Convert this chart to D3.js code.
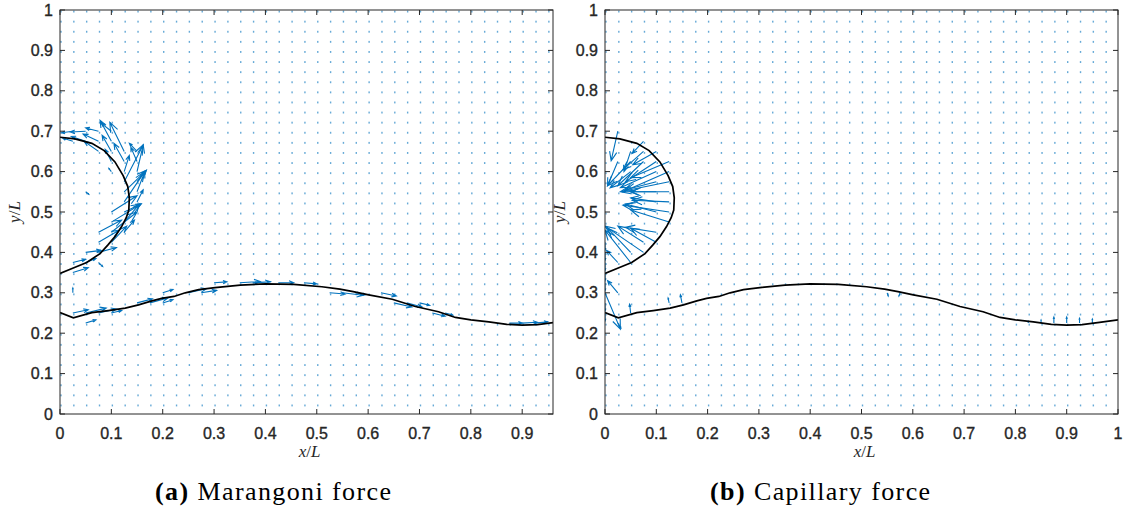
<!DOCTYPE html>
<html>
<head>
<meta charset="utf-8">
<script src="https://cdn.jsdelivr.net/npm/d3@7/dist/d3.min.js"></script>
<style>
  body { margin: 0; background: #fff; }
  svg { display: block; }
</style>
</head>
<body>
<svg id="chart" width="1124" height="515"></svg>
<script>
// quiver sample grid (x/L, y/L)
var gridX = [0, 0.025, 0.05, 0.075, 0.1, 0.125, 0.15, 0.175, 0.2, 0.225, 0.25, 0.275, 0.3, 0.325, 0.35, 0.375, 0.4,
  0.425, 0.45, 0.475, 0.5, 0.525, 0.55, 0.575, 0.6, 0.625, 0.65, 0.675, 0.7, 0.725, 0.75, 0.775, 0.8,
  0.825, 0.85, 0.875, 0.9, 0.925, 0.95, 0.975, 1];
var gridY = [0.025, 0.05, 0.075, 0.1, 0.125, 0.15, 0.175, 0.2, 0.225, 0.25, 0.275, 0.3, 0.325, 0.35, 0.375, 0.4,
  0.425, 0.45, 0.475, 0.5, 0.525, 0.55, 0.575, 0.6, 0.625, 0.65, 0.675, 0.7, 0.725, 0.75, 0.775, 0.8,
  0.825, 0.85, 0.875, 0.9, 0.925, 0.95, 0.975, 1];

// interface: droplet on the left wall
var dropletX = [0, 0.029, 0.062, 0.086, 0.107, 0.123, 0.132, 0.135, 0.134, 0.129, 0.120, 0.107, 0.093, 0.078, 0.052, 0.027, 0];
var dropletY = [0.685, 0.681, 0.670, 0.652, 0.624, 0.590, 0.563, 0.535, 0.505, 0.486, 0.464, 0.439, 0.418, 0.397, 0.375, 0.362, 0.348];

// interface: wavy film
var waveX = [0, 0.026, 0.062, 0.094, 0.127, 0.153, 0.179, 0.198, 0.222, 0.244, 0.270, 0.302, 0.351, 0.400, 0.455,
  0.510, 0.545, 0.571, 0.601, 0.647, 0.692, 0.737, 0.770, 0.800, 0.835, 0.870, 0.900, 0.930, 0.964, 1.0];
var waveY = [0.251, 0.238, 0.251, 0.256, 0.262, 0.270, 0.280, 0.286, 0.291, 0.300, 0.308, 0.313, 0.319, 0.322, 0.321,
  0.315, 0.309, 0.303, 0.295, 0.284, 0.266, 0.253, 0.239, 0.233, 0.228, 0.222, 0.220, 0.221, 0.227, 0.233];

// force vectors [x, y, u, v]
var marangoniVec = [
  [0.025, 0.700, -0.022, -0.004], [0.025, 0.675, -0.020, 0.008], [0.050, 0.700, -0.030, -0.002],
  [0.050, 0.675, -0.028, 0.012], [0.075, 0.675, -0.030, 0.018], [0.075, 0.650, -0.028, 0.025],
  [0.075, 0.700, -0.025, 0.008], [0.100, 0.700, -0.020, 0.020], [0.150, 0.650, -0.015, 0.020],
  [0.100, 0.675, -0.022, 0.052], [0.100, 0.650, -0.018, 0.040], [0.125, 0.650, -0.028, 0.072],
  [0.125, 0.625, -0.020, 0.045], [0.100, 0.625, -0.012, 0.030], [0.125, 0.600, 0.010, 0.040],
  [0.150, 0.625, -0.012, 0.035], [0.125, 0.575, 0.037, 0.091], [0.150, 0.600, 0.012, 0.066],
  [0.125, 0.550, 0.043, 0.053], [0.150, 0.575, 0.018, 0.028], [0.125, 0.525, 0.040, 0.075],
  [0.150, 0.550, 0.015, 0.050], [0.150, 0.525, 0.012, 0.030], [0.100, 0.500, 0.050, 0.040],
  [0.125, 0.500, 0.033, 0.020], [0.100, 0.475, 0.058, 0.045], [0.125, 0.475, 0.030, 0.045],
  [0.100, 0.450, 0.050, 0.050], [0.125, 0.450, 0.020, 0.030], [0.100, 0.425, 0.030, 0.040],
  [0.075, 0.450, 0.045, 0.030], [0.075, 0.425, 0.040, 0.030], [0.075, 0.400, 0.035, 0.012],
  [0.050, 0.400, 0.030, 0.005], [0.050, 0.375, 0.020, 0.010], [0.025, 0.375, 0.025, 0.008],
  [0.025, 0.350, 0.030, 0.012], [0.075, 0.375, 0.008, -0.010], [0.100, 0.600, -0.005, 0.008],
  [0.050, 0.550, 0.006, -0.006],
  // along the film
  [0.025, 0.250, 0.030, 0.008], [0.050, 0.250, 0.040, 0.012], [0.075, 0.250, 0.035, 0.010],
  [0.050, 0.225, 0.020, 0.008], [0.100, 0.250, 0.020, 0.006], [0.150, 0.275, 0.030, 0.010],
  [0.175, 0.275, 0.035, 0.012], [0.200, 0.275, 0.020, 0.008], [0.200, 0.300, 0.020, 0.008],
  [0.250, 0.300, 0.035, 0.010], [0.275, 0.300, 0.030, 0.006], [0.300, 0.325, 0.025, 0.002],
  [0.350, 0.325, 0.040, 0.003], [0.375, 0.325, 0.035, 0.002], [0.425, 0.325, 0.030, 0.000],
  [0.475, 0.325, 0.025, -0.003], [0.525, 0.300, 0.030, -0.003], [0.550, 0.300, 0.040, -0.006],
  [0.575, 0.300, 0.020, -0.005], [0.625, 0.300, 0.030, -0.008], [0.650, 0.275, 0.035, -0.010],
  [0.675, 0.275, 0.030, -0.010], [0.700, 0.275, 0.020, -0.006], [0.725, 0.250, 0.025, -0.008],
  [0.750, 0.250, 0.015, -0.005], [0.875, 0.225, 0.025, 0.000], [0.900, 0.225, 0.030, 0.002],
  [0.925, 0.225, 0.025, 0.003], [0.025, 0.300, 0.000, 0.012]
];
var capillaryVec = [
  [0.025, 0.700, -0.013, -0.073], [0.050, 0.650, -0.013, -0.050], [0.075, 0.675, -0.022, -0.030],
  [0.075, 0.650, -0.040, -0.045], [0.100, 0.650, -0.046, -0.033], [0.125, 0.625, -0.075, -0.040],
  [0.125, 0.600, -0.090, -0.050], [0.125, 0.575, -0.095, -0.025], [0.125, 0.550, -0.075, 0.000],
  [0.125, 0.525, -0.072, 0.004], [0.125, 0.500, -0.090, 0.017], [0.125, 0.475, -0.075, 0.030],
  [0.100, 0.625, -0.060, -0.050], [0.100, 0.600, -0.070, -0.040], [0.100, 0.575, -0.060, -0.020],
  [0.100, 0.550, -0.050, 0.000], [0.100, 0.525, -0.050, 0.010], [0.100, 0.500, -0.060, 0.020],
  [0.075, 0.625, -0.050, -0.060], [0.050, 0.600, -0.040, -0.040], [0.075, 0.425, -0.050, 0.040],
  [0.050, 0.400, -0.045, 0.060],
  [0.100, 0.450, -0.060, 0.012], [0.100, 0.425, -0.050, 0.035], [0.075, 0.400, -0.075, 0.065],
  [0.050, 0.375, -0.050, 0.080], [0.025, 0.375, -0.022, 0.030], [0.025, 0.625, -0.020, -0.060],
  [0.050, 0.625, -0.045, -0.060], [0.025, 0.300, -0.020, 0.030], [0.000, 0.300, 0.030, -0.090],
  [0.000, 0.425, 0.000, -0.020], [0.000, 0.400, 0.000, -0.020], [0.000, 0.375, 0.000, -0.020],
  [0.000, 0.350, 0.000, -0.020], [0.000, 0.325, 0.000, -0.020], [0.000, 0.275, 0.000, -0.020],
  [0.000, 0.250, 0.000, -0.020], [0.050, 0.250, -0.002, 0.022], [0.125, 0.275, -0.002, 0.012],
  [0.150, 0.275, -0.003, 0.020], [0.025, 0.225, 0.006, -0.012], [0.550, 0.300, 0.002, -0.008],
  [0.575, 0.300, -0.002, -0.008], [0.825, 0.225, 0.000, 0.004], [0.850, 0.225, 0.000, 0.008],
  [0.875, 0.225, 0.000, 0.015], [0.900, 0.225, 0.000, 0.015], [0.925, 0.225, 0.000, 0.012],
  [0.950, 0.225, 0.000, 0.010]
];

var xTicksA = [0, 0.1, 0.2, 0.3, 0.4, 0.5, 0.6, 0.7, 0.8, 0.9];
var xTicksB = [0, 0.1, 0.2, 0.3, 0.4, 0.5, 0.6, 0.7, 0.8, 0.9, 1];
var yTicks = [0, 0.1, 0.2, 0.3, 0.4, 0.5, 0.6, 0.7, 0.8, 0.9, 1];

var svg = d3.select("#chart");
var blue = "#0072BD", ink = "#262626";

function tickText(sel) {
  sel.attr("font-family", "Liberation Sans, Arial, sans-serif").attr("font-size", 16)
    .attr("fill", ink).attr("stroke", ink).attr("stroke-width", 0.35);
}

function drawPanel(id, left, right, xMax, xTicks, vecs, caption, capX) {
  var top = 10, bottom = 414;
  var x = d3.scaleLinear().domain([0, xMax]).range([left, right]);
  var y = d3.scaleLinear().domain([0, 1]).range([bottom, top]);

  svg.append("clipPath").attr("id", "clip" + id)
    .append("rect").attr("x", left).attr("y", top).attr("width", right - left).attr("height", bottom - top);

  var g = svg.append("g").attr("clip-path", "url(#clip" + id + ")");

  // zero-ish vectors show as dots
  var pts = [];
  gridX.forEach(function(gx) { if (gx <= xMax) gridY.forEach(function(gy) { pts.push([gx, gy]); }); });
  g.selectAll("rect.dot").data(pts).enter().append("rect")
    .attr("class", "dot")
    .attr("x", function(d) { return x(d[0]) + 0.3; })
    .attr("y", function(d) { return y(d[1]) + 0.6; })
    .attr("width", 1.4).attr("height", 1.9)
    .attr("fill", blue).attr("opacity", 0.6);

  // arrows, matlab quiver style
  g.selectAll("path.vec").data(vecs).enter().append("path")
    .attr("class", "vec")
    .attr("d", function(d) {
      var x1 = x(d[0]), y1 = y(d[1]), x2 = x(d[0] + d[2]), y2 = y(d[1] + d[3]);
      var dx = x2 - x1, dy = y2 - y1, len = Math.sqrt(dx * dx + dy * dy) || 1;
      var h = Math.min(len * 0.3, 10), ux = dx / len, uy = dy / len, w = h * 0.4;
      var bx = x2 - ux * h, by = y2 - uy * h;
      return "M" + x1 + "," + y1 + "L" + x2 + "," + y2 +
        "M" + (bx - uy * w) + "," + (by + ux * w) + "L" + x2 + "," + y2 + "L" + (bx + uy * w) + "," + (by - ux * w);
    })
    .attr("fill", "none").attr("stroke", blue).attr("stroke-width", 1.1).attr("stroke-linejoin", "miter");

  var line = d3.line().x(function(d) { return x(d[0]); }).y(function(d) { return y(d[1]); });
  g.append("path").datum(d3.zip(dropletX, dropletY)).attr("d", line)
    .attr("fill", "none").attr("stroke", "#000").attr("stroke-width", 1.7);
  g.append("path").datum(d3.zip(waveX, waveY)).attr("d", line)
    .attr("fill", "none").attr("stroke", "#000").attr("stroke-width", 1.7);

  // box + inward ticks on all sides
  var ax = svg.append("g");
  ax.append("rect").attr("x", left).attr("y", top).attr("width", right - left).attr("height", bottom - top)
    .attr("fill", "none").attr("stroke", ink).attr("stroke-width", 1);
  xTicks.forEach(function(t) {
    ax.append("line").attr("x1", x(t)).attr("x2", x(t)).attr("y1", bottom).attr("y2", bottom - 5).attr("stroke", ink);
    ax.append("line").attr("x1", x(t)).attr("x2", x(t)).attr("y1", top).attr("y2", top + 5).attr("stroke", ink);
    ax.append("text").attr("x", x(t)).attr("y", bottom + 25).attr("text-anchor", "middle").call(tickText).text(t);
  });
  yTicks.forEach(function(t) {
    ax.append("line").attr("x1", left).attr("x2", left + 5).attr("y1", y(t)).attr("y2", y(t)).attr("stroke", ink);
    ax.append("line").attr("x1", right).attr("x2", right - 5).attr("y1", y(t)).attr("y2", y(t)).attr("stroke", ink);
    ax.append("text").attr("x", left - 7).attr("y", y(t) + 5.5).attr("text-anchor", "end").call(tickText).text(t);
  });

  ax.append("text").attr("x", (left + right) / 2 + 3).attr("y", 457).attr("text-anchor", "middle")
    .attr("font-family", "Liberation Serif, serif").attr("font-size", 17).attr("fill", ink)
    .html("<tspan font-style='italic'>x</tspan>/<tspan font-style='italic'>L</tspan>");
  ax.append("text").attr("transform", "translate(" + (left - 40) + "," + (top + bottom) / 2 + ") rotate(-90)")
    .attr("text-anchor", "middle")
    .attr("font-family", "Liberation Serif, serif").attr("font-size", 17).attr("fill", ink)
    .html("<tspan font-style='italic'>y</tspan>/<tspan font-style='italic'>L</tspan>");

  var cap = svg.append("text").attr("x", capX).attr("y", 500)
    .attr("font-family", "Liberation Serif, serif").attr("font-size", 26).attr("letter-spacing", 1.4)
    .attr("fill", "#000");
  cap.append("tspan").attr("font-weight", "bold").text(caption[0]);
  cap.append("tspan").text(" " + caption[1]);
}

drawPanel("a", 60, 553, 0.96, xTicksA, marangoniVec, ["(a)", "Marangoni force"], 155);
drawPanel("b", 605, 1118, 1, xTicksB, capillaryVec, ["(b)", "Capillary force"], 710);
</script>
</body>
</html>
